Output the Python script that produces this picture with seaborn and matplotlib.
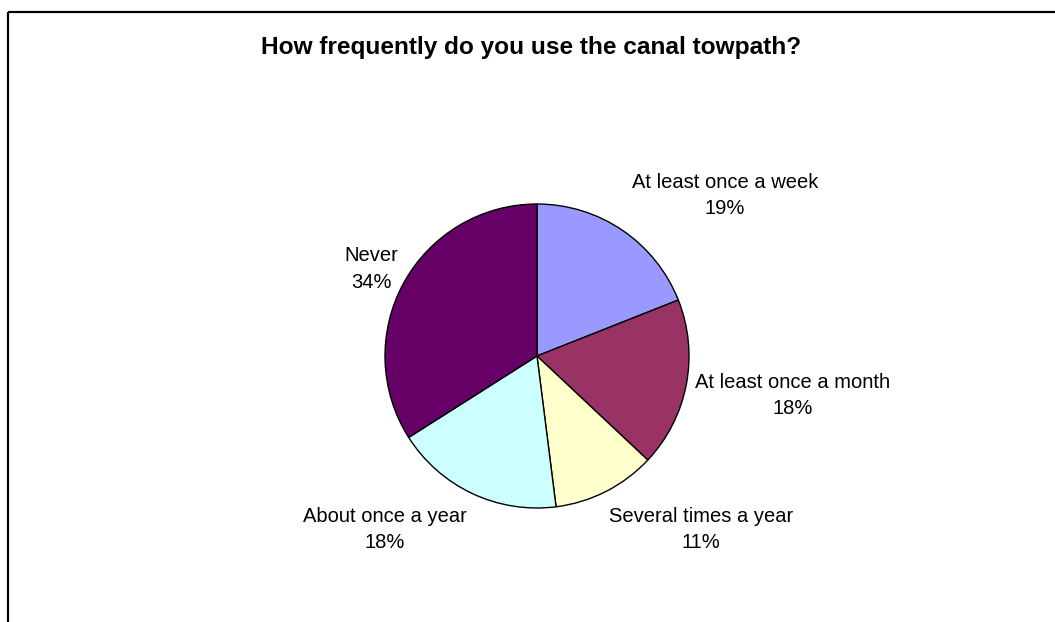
import matplotlib
matplotlib.use("Agg")
import matplotlib.pyplot as plt
import seaborn as sns

# Datos del gráfico
categorias = ["At least once a week", "At least once a month", "Several times a year",
              "About once a year", "Never"]
porcentajes = [19, 18, 11, 18, 34]
colores = ["#9999FF", "#993366", "#FFFFCC", "#CCFFFF", "#660066"]
titulo = "How frequently do you use the canal towpath?"

# Posiciones de las etiquetas: centro x y linea base de la primera linea (pixeles, origen arriba)
pos_etiquetas = [(725, 188), (793, 388), (701, 522), (385, 522), (371, 261)]
salto_linea = 26.5

sns.set_theme(style="white")
plt.rcParams["font.family"] = ["Liberation Sans", "DejaVu Sans"]
plt.rcParams["text.color"] = "black"

W, H = 1055, 622
fig = plt.figure(figsize=(W / 100, H / 100), dpi=100)
ax = fig.add_axes([0, 0, 1, 1])

ax.pie(porcentajes, colors=colores, startangle=90, counterclock=False,
       center=(537, H - 356), radius=152,
       wedgeprops=dict(edgecolor="black", linewidth=1.0))
ax.set_xlim(0, W)
ax.set_ylim(0, H)
ax.set_aspect("equal")
ax.axis("off")

for cat, pct, (x, y) in zip(categorias, porcentajes, pos_etiquetas):
    ax.text(x, H - y, cat, ha="center", va="baseline", fontsize=14.5)
    ax.text(x, H - y - salto_linea, f"{pct}%", ha="center", va="baseline", fontsize=14.5)

ax.text(531, H - 54, titulo, ha="center", va="baseline", fontsize=17.6, fontweight="bold")

# Borde del gráfico (arriba e izquierda)
ax.plot([8, W], [H - 12, H - 12], color="black", lw=1.6, solid_capstyle="butt")
ax.plot([8, 8], [H - 12, 0], color="black", lw=1.6, solid_capstyle="butt")

fig.savefig("out.png", dpi=100)
